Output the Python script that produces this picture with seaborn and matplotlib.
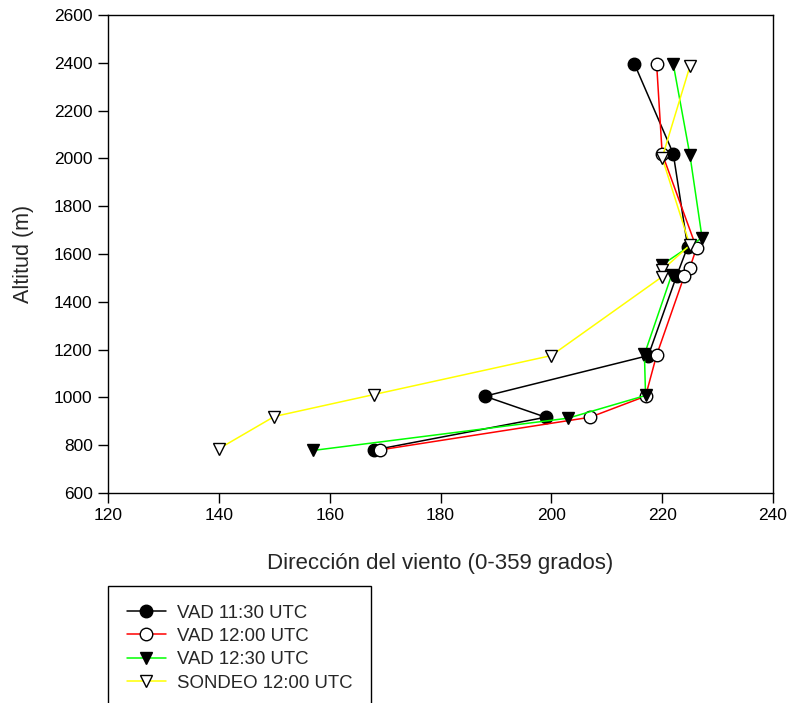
import matplotlib
matplotlib.use("Agg")
import matplotlib.pyplot as plt
import seaborn as sns
import pandas as pd

# ---- data ----
vad1130_dir = [215, 222, 224.6, 222.6, 217.5, 188, 199, 168]
vad1130_alt = [2395, 2020, 1630, 1508, 1175, 1005, 917, 780]

vad1200_dir = [219, 220, 226.2, 225, 224, 219, 217, 207, 169]
vad1200_alt = [2395, 2020, 1625, 1543, 1509, 1177, 1005, 917, 780]

vad1230_dir = [222, 225, 227.2, 220, 221.7, 216.8, 217, 203, 157]
vad1230_alt = [2395, 2015, 1668, 1555, 1512, 1180, 1008, 913, 778]

sondeo_dir = [225, 220, 225, 220, 220, 200, 168, 150, 140]
sondeo_alt = [2385, 2003, 1637, 1533, 1505, 1175, 1012, 920, 785]

labels = ["VAD 11:30 UTC", "VAD 12:00 UTC", "VAD 12:30 UTC", "SONDEO 12:00 UTC"]
x_ticks = [120, 140, 160, 180, 200, 220, 240]
y_ticks = [600, 800, 1000, 1200, 1400, 1600, 1800, 2000, 2200, 2400, 2600]

sns.set_style("ticks")
plt.rcParams["font.family"] = ["Liberation Sans", "DejaVu Sans"]

fig = plt.figure(figsize=(7.92, 7.03), dpi=100)
ax = fig.add_axes([108 / 792, 1 - 493 / 703, 665 / 792, 478 / 703])

series = [
    (vad1130_dir, vad1130_alt, "black", "o", "black"),
    (vad1200_dir, vad1200_alt, "#ff0000", "o", "white"),
    (vad1230_dir, vad1230_alt, "#00ff00", "v", "black"),
    (sondeo_dir, sondeo_alt, "#ffff00", "v", "white"),
]

handles = []
for (xs, ys, col, mk, fc), lab in zip(series, labels):
    df = pd.DataFrame({"dir": xs, "alt": ys})
    sns.lineplot(data=df, x="dir", y="alt", sort=False, estimator=None,
                 color=col, marker=mk, markersize=9 if mk == "o" else 8.7,
                 markerfacecolor=fc, markeredgecolor="black",
                 markeredgewidth=1.0, linewidth=1.1, ax=ax, label=lab)
    handles.append(ax.lines[-1])

if ax.get_legend() is not None:
    ax.get_legend().remove()

ax.set_xlim(120, 240)
ax.set_ylim(600, 2600)
ax.set_xticks(x_ticks)
ax.set_yticks(y_ticks)
ax.tick_params(direction="out", length=7, width=1, pad=4, labelsize=12.5,
               colors="black")
for s in ax.spines.values():
    s.set_visible(True)
    s.set_linewidth(1.0)
    s.set_color("black")

ax.set_xlabel("Dirección del viento (0-359 grados)", fontsize=16)
ax.set_ylabel("Altitud (m)", fontsize=15.5)
ax.xaxis.set_label_coords(0.5, -0.125)
ax.yaxis.set_label_coords(-0.112, 0.5)

leg = fig.legend(handles=handles, labels=labels, loc="upper left",
                 bbox_to_anchor=(108 / 792, 1 - 586 / 703),
                 borderaxespad=0, fontsize=13.4, frameon=True, fancybox=False,
                 handlelength=2.1, handletextpad=0.6, labelspacing=0.34,
                 borderpad=1.0)
leg.get_frame().set_edgecolor("black")
leg.get_frame().set_linewidth(1.0)
leg.get_frame().set_alpha(1)

fig.savefig("out.png", dpi=100)
